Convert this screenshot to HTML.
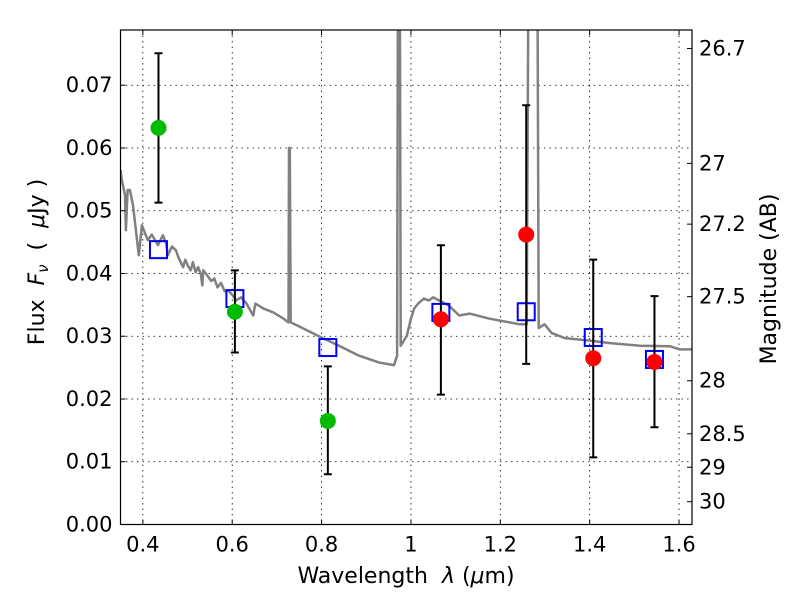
<!DOCTYPE html>
<html><head><meta charset="utf-8"><style>
body{margin:0;background:#fff;}
svg text{font-family:"DejaVu Sans","Liberation Sans",sans-serif;white-space:pre;}
</style></head><body>
<svg id="chart" width="800" height="600" xmlns="http://www.w3.org/2000/svg">
<defs><clipPath id="clip"><rect x="120.5" y="30" width="571.5" height="495"/></clipPath></defs>
<g id="grid"></g>
<g id="spec" clip-path="url(#clip)"></g>
<g id="marks"></g>
<rect x="120.5" y="30" width="571.5" height="494.5" fill="none" stroke="#000" stroke-width="1.2"/>
<g id="axes"></g>
<text x="406" y="583" font-size="22" text-anchor="middle">Wavelength  <tspan font-style="italic">λ</tspan> (<tspan font-style="italic">μ</tspan>m)</text>
<text transform="translate(44,262) rotate(-90)" font-size="22" text-anchor="middle">Flux  <tspan font-style="italic">F</tspan><tspan font-style="italic" font-size="15" dy="4">ν</tspan><tspan dy="-4">  (  </tspan><tspan font-style="italic">μ</tspan>Jy )</text>
<text transform="translate(776,279) rotate(-90)" font-size="22" text-anchor="middle">Magnitude (AB)</text>
</svg>
<script>
const xTicks=[0.4,0.6,0.8,1.0,1.2,1.4,1.6];
const xTickLabels=["0.4","0.6","0.8","1","1.2","1.4","1.6"];
const yTicks=[0,0.01,0.02,0.03,0.04,0.05,0.06,0.07];
const yTickLabels=["0.00","0.01","0.02","0.03","0.04","0.05","0.06","0.07"];
const magTicks=[26.7,27,27.2,27.5,28,28.5,29,30];
const magTickLabels=["26.7","27","27.2","27.5","28","28.5","29","30"];
const specWave=[0.35,0.353,0.36,0.362,0.366,0.371,0.378,0.391,0.398,0.411,0.42,0.434,0.445,0.452,0.456,0.465,0.474,0.48,0.49,0.495,0.501,0.507,0.512,0.518,0.524,0.53,0.533,0.535,0.546,0.553,0.56,0.567,0.575,0.583,0.591,0.6,0.609,0.62,0.632,0.647,0.652,0.67,0.692,0.715,0.726,0.727,0.729,0.731,0.749,0.794,0.839,0.884,0.929,0.962,0.969,0.971,0.975,0.977,0.991,1.0,1.007,1.016,1.029,1.04,1.05,1.063,1.085,1.108,1.131,1.176,1.221,1.243,1.259,1.263,1.283,1.286,1.299,1.315,1.344,1.401,1.446,1.513,1.58,1.602,1.629];
const specFlux=[0.0565,0.0549,0.0525,0.0469,0.0533,0.0533,0.0509,0.0429,0.0477,0.0453,0.0462,0.0445,0.0461,0.0448,0.0429,0.0443,0.0437,0.0425,0.041,0.0422,0.0412,0.0405,0.0418,0.0402,0.041,0.0398,0.0381,0.0405,0.0395,0.0388,0.0392,0.0378,0.0385,0.0372,0.0373,0.0366,0.0357,0.0362,0.0352,0.0333,0.0352,0.0344,0.0338,0.0328,0.0322,0.06,0.06,0.0322,0.0316,0.03,0.0285,0.0269,0.0258,0.0254,0.0269,0.09,0.09,0.0285,0.0301,0.0328,0.0344,0.0352,0.036,0.0357,0.0362,0.0357,0.0349,0.0333,0.0336,0.0328,0.0322,0.0319,0.0319,0.09,0.09,0.0313,0.0319,0.0305,0.0297,0.0293,0.0289,0.0285,0.0284,0.0279,0.0279];
const obsWave=[0.435,0.606,0.814,1.067,1.258,1.408,1.545];
const obsFlux=[0.0632,0.0339,0.0165,0.0327,0.0462,0.0265,0.0259];
const obsLow=[0.0513,0.0274,0.008,0.0207,0.0256,0.0107,0.0155];
const obsHigh=[0.0751,0.0405,0.0252,0.0445,0.0668,0.0422,0.0364];
const obsColor=["#00bb00","#00bb00","#00bb00","#ff0000","#ff0000","#ff0000","#ff0000"];
const modelWave=[0.435,0.606,0.814,1.067,1.258,1.408,1.545];
const modelFlux=[0.0438,0.036,0.0282,0.0338,0.0339,0.0298,0.0263];

const X0=120.5,X1=692,Y0=524.5,Y1=30,xmin=0.35,xmax=1.629,ymin=0,ymax=0.0788;
const sx=v=>X0+(v-xmin)/(xmax-xmin)*(X1-X0);
const sy=v=>Y0-(v-ymin)/(ymax-ymin)*(Y0-Y1);
const mag2f=m=>Math.pow(10,(23.9-m)/2.5);
const NS="http://www.w3.org/2000/svg";
function mk(tag,attrs,parent){const e=document.createElementNS(NS,tag);for(const k in attrs)e.setAttribute(k,attrs[k]);parent.appendChild(e);return e;}
const grid=document.getElementById('grid'),axes=document.getElementById('axes'),spec=document.getElementById('spec'),marks=document.getElementById('marks');
xTicks.forEach((t,i)=>{const x=sx(t);
 let g=mk('line',{x1:x,x2:x,y1:Y1,y2:Y0,stroke:'#000','stroke-width':0.8,'stroke-dasharray':'1.5,4'},grid);
 
 let tk=mk('path',{d:`M${x},${Y0}v-5M${x},${Y1}v5`,stroke:'#000','stroke-width':1},axes);
 
 let tx=mk('text',{x:x,y:Y0+27,'font-size':21,'text-anchor':'middle'},axes);tx.textContent=xTickLabels[i];
 });
yTicks.forEach((t,i)=>{const y=sy(t);
 let g=mk('line',{x1:X0,x2:X1,y1:y,y2:y,stroke:'#000','stroke-width':0.8,'stroke-dasharray':'1.5,4'},grid);
 
 let tk=mk('path',{d:`M${X0},${y}h5`,stroke:'#000','stroke-width':1},axes);
 
 let tx=mk('text',{x:X0-8,y:y+7,'font-size':21,'text-anchor':'end'},axes);tx.textContent=yTickLabels[i];
 });
magTicks.forEach((m,i)=>{const y=sy(mag2f(m));
 let tk=mk('path',{d:`M${X1},${y}h-5`,stroke:'#000','stroke-width':1},axes);
 
 let tx=mk('text',{x:X1+7,y:y+7,'font-size':21},axes);tx.textContent=magTickLabels[i];
 });
let d=specWave.map((w,i)=>(i?'L':'M')+sx(w).toFixed(1)+','+sy(specFlux[i]).toFixed(1)).join('');
let sp=mk('path',{d:d,fill:'none',stroke:'#808080','stroke-width':2.5,'stroke-linejoin':'round'},spec);

modelWave.forEach((w,i)=>{const x=sx(w),y=sy(modelFlux[i]);
 let r=mk('rect',{x:x-8.5,y:y-8.5,width:17,height:17,fill:'none',stroke:'#0000ff','stroke-width':2},marks);
 });
obsWave.forEach((w,i)=>{const x=sx(w);
 let e=mk('path',{d:`M${x},${sy(obsLow[i])}V${sy(obsHigh[i])}M${x-4},${sy(obsLow[i])}h8M${x-4},${sy(obsHigh[i])}h8`,stroke:'#000','stroke-width':2},marks);
 
 let c=mk('circle',{cx:x,cy:sy(obsFlux[i]),r:8,fill:obsColor[i]},marks);
 });
</script>
</body></html>
